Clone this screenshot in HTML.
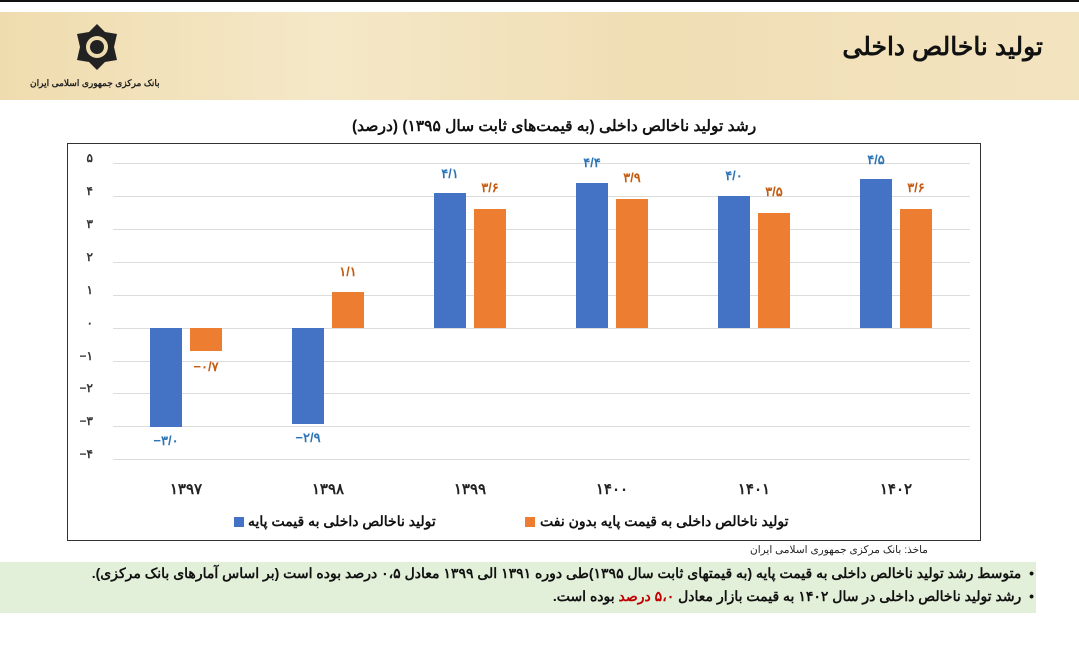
<!DOCTYPE html>
<html><head><meta charset="utf-8"><style>
body{margin:0;width:1079px;height:665px;background:#fff;position:relative;overflow:hidden;font-family:"Liberation Sans","Noto Sans CJK SC",sans-serif}
.t{position:absolute;white-space:nowrap}
</style></head><body>
<div style="position:absolute;left:0;top:0;width:1079px;height:2px;background:#111"></div>
<div style="position:absolute;left:0;top:12px;width:1079px;height:88px;background:linear-gradient(90deg,#efdcae,#f5e8c8 30%,#f0deb4 60%,#f3e4c0);"></div>
<svg style="position:absolute;left:72px;top:22px" width="50" height="50" viewBox="0 0 50 50"><polygon points="25,2 33,10 45,12 42,25 45,38 33,40 25,48 17,40 5,38 8,25 5,12 17,10" fill="#222"/><circle cx="25" cy="25" r="11" fill="#efdcae"/><circle cx="25" cy="25" r="7" fill="#222"/></svg>
<div class="t" style="left:30px;top:78px;font-size:9px;font-weight:bold;color:#222">بانک مرکزی جمهوری اسلامی ایران</div>
<div class="t" style="right:36px;top:32px;font-size:25px;font-weight:bold;color:#111;direction:rtl">تولید ناخالص داخلی</div>
<div class="t" style="left:352px;top:117px;font-size:15.5px;font-weight:bold;color:#111;direction:rtl">رشد تولید ناخالص داخلی (به قیمت‌های ثابت سال ۱۳۹۵) (درصد)</div>
<svg style="position:absolute;left:0;top:0" width="1079" height="665">
<rect x="67.5" y="143.5" width="913" height="397" fill="none" stroke="#333" stroke-width="1"/>
<g stroke="#dcdcdc" stroke-width="1">
<line x1="113" x2="970" y1="163.5" y2="163.5"/><line x1="113" x2="970" y1="196.5" y2="196.5"/><line x1="113" x2="970" y1="229.5" y2="229.5"/><line x1="113" x2="970" y1="262.5" y2="262.5"/><line x1="113" x2="970" y1="295.5" y2="295.5"/><line x1="113" x2="970" y1="328.5" y2="328.5"/><line x1="113" x2="970" y1="361.5" y2="361.5"/><line x1="113" x2="970" y1="393.5" y2="393.5"/><line x1="113" x2="970" y1="426.5" y2="426.5"/><line x1="113" x2="970" y1="459.5" y2="459.5"/>
</g>
<g font-size="12" font-weight="bold" fill="#333" text-anchor="end" font-family="Liberation Sans,Noto Sans CJK SC,sans-serif">
<text x="93" y="162">۵</text><text x="93" y="195">۴</text><text x="93" y="228">۳</text><text x="93" y="261">۲</text><text x="93" y="294">۱</text><text x="93" y="327">۰</text><text x="93" y="360">−۱</text><text x="93" y="392">−۲</text><text x="93" y="425">−۳</text><text x="93" y="458">−۴</text>
</g>
<g fill="#4472c4">
<rect x="150" y="328" width="32" height="99"/><rect x="292" y="328" width="32" height="96"/><rect x="434" y="193" width="32" height="135"/><rect x="576" y="183" width="32" height="145"/><rect x="718" y="196" width="32" height="132"/><rect x="860" y="179" width="32" height="149"/>
</g>
<g fill="#ed7d31">
<rect x="190" y="328" width="32" height="23"/><rect x="332" y="292" width="32" height="36"/><rect x="474" y="209" width="32" height="119"/><rect x="616" y="199" width="32" height="129"/><rect x="758" y="213" width="32" height="115"/><rect x="900" y="209" width="32" height="119"/>
</g>
<g font-size="13" font-weight="bold" text-anchor="middle" font-family="Liberation Sans,Noto Sans CJK SC,sans-serif">
<g fill="#2e75b6"><text x="166" y="445">−۳/۰</text><text x="308" y="442">−۲/۹</text><text x="450" y="178">۴/۱</text><text x="592" y="167">۴/۴</text><text x="734" y="180">۴/۰</text><text x="876" y="164">۴/۵</text></g>
<g fill="#c55a11"><text x="206" y="371">−۰/۷</text><text x="348" y="276">۱/۱</text><text x="490" y="192">۳/۶</text><text x="632" y="182">۳/۹</text><text x="774" y="196">۳/۵</text><text x="916" y="192">۳/۶</text></g>
<g fill="#222" font-size="15"><text x="186" y="494">۱۳۹۷</text><text x="328" y="494">۱۳۹۸</text><text x="470" y="494">۱۳۹۹</text><text x="612" y="494">۱۴۰۰</text><text x="754" y="494">۱۴۰۱</text><text x="896" y="494">۱۴۰۲</text></g>
</g>
<rect x="234" y="517" width="10" height="10" fill="#4472c4"/>
<rect x="525" y="517" width="10" height="10" fill="#ed7d31"/>
</svg>
<div class="t" style="left:248px;top:513px;font-size:14px;font-weight:bold;color:#111;direction:rtl">تولید ناخالص داخلی به قیمت پایه</div>
<div class="t" style="left:540px;top:513px;font-size:14px;font-weight:bold;color:#111;direction:rtl">تولید ناخالص داخلی به قیمت پایه بدون نفت</div>
<div class="t" style="left:750px;top:544px;font-size:10.5px;color:#222;direction:rtl">ماخذ: بانک مرکزی جمهوری اسلامی ایران</div>
<div style="position:absolute;left:0;top:562px;width:1036px;height:51px;background:#e2efd9"></div>
<div class="t" style="right:45px;top:565px;font-size:14px;font-weight:bold;color:#111;direction:rtl">• &nbsp;متوسط رشد تولید ناخالص داخلی به قیمت پایه (به قیمتهای ثابت سال ۱۳۹۵)طی دوره ۱۳۹۱ الی ۱۳۹۹ معادل ۰،۵ درصد بوده است (بر اساس آمارهای بانک مرکزی).</div>
<div class="t" style="right:45px;top:588px;font-size:14px;font-weight:bold;color:#111;direction:rtl">• &nbsp;رشد تولید ناخالص داخلی در سال ۱۴۰۲ به قیمت بازار معادل <span style="color:#c00000">۵،۰ درصد</span> بوده است.</div>
</body></html>
